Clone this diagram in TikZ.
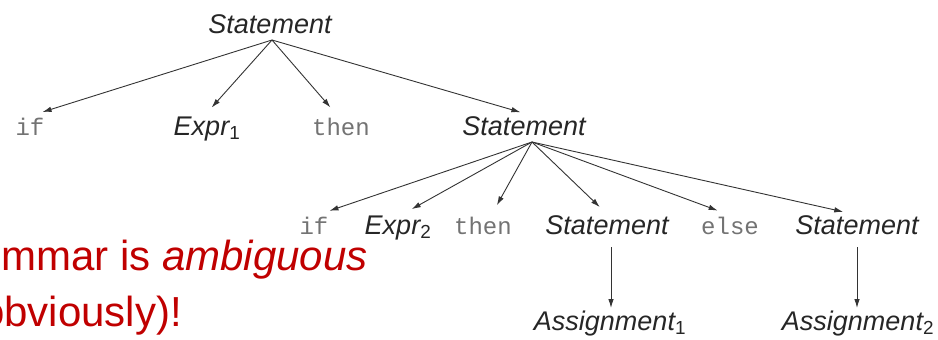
\documentclass[tikz,border=0pt]{standalone}
\usepackage{fontspec}
\setmainfont{Liberation Sans}
\newfontfamily\monof{Liberation Mono}
\usetikzlibrary{arrows.meta}
\definecolor{warnred}{RGB}{192,0,0}
\tikzset{
  sym/.style={inner sep=0pt, outer sep=0pt, anchor=base, text height=20pt, text depth=7pt},
  nt/.style={sym, font=\fontsize{27}{30}\selectfont\itshape, text=black!85},
  tm/.style={sym, font=\fontsize{24}{28}\selectfont\monof, text=black!55},
  edge/.style={draw=black!80, line width=0.9pt, -{Latex[length=9pt,width=5.5pt]}, shorten >=10pt},
  down/.style={edge, shorten <=6pt, shorten >=2pt},
  note/.style={anchor=base west, inner sep=0pt, text=warnred, font=\fontsize{42}{48}\selectfont}
}
\newcommand{\sub}[1]{\textsubscript{\upshape #1}}
\begin{document}
\begin{tikzpicture}[x=1pt, y=-1pt]
\useasboundingbox (0,0) rectangle (938,340);

% root
\node[nt] (s0) at (270,33) {Statement};

% first level
\node[tm] (if1)   at (30,135)  {if};
\node[nt] (expr1) at (207,135) {Expr\sub{1}};
\node[tm] (then1) at (341,135) {then};
\node[nt] (s1)    at (524,135) {Statement};

% second level
\node[tm] (if2)   at (314,234) {if};
\node[nt] (expr2) at (398,234) {Expr\sub{2}};
\node[tm] (then2) at (483,234) {then};
\node[nt] (s2a)   at (607,234) {Statement};
\node[tm] (else2) at (730,234) {else};
\node[nt] (s2b)   at (857,234) {Statement};

% leaves
\node[nt] (a1) at (610,330) {Assignment\sub{1}};
\node[nt] (a2) at (858,330) {Assignment\sub{2}};

% edges
\draw[edge] ([xshift=2pt]s0.south) -- ([xshift=3pt]if1.north);
\draw[edge] ([xshift=2pt]s0.south) -- ([xshift=-2pt]expr1.north);
\draw[edge] ([xshift=2pt]s0.south) -- ([xshift=-4pt]then1.north);
\draw[edge] ([xshift=2pt]s0.south) -- ([xshift=6pt]s1.north);

\draw[edge] ([xshift=8pt]s1.south) -- ([xshift=6pt]if2.north);
\draw[edge] ([xshift=8pt]s1.south) -- ([xshift=5pt]expr2.north);
\draw[edge] ([xshift=8pt]s1.south) -- ([xshift=9pt]then2.north);
\draw[edge] ([xshift=8pt]s1.south) -- (s2a.north);
\draw[edge] ([xshift=8pt]s1.south) -- ([xshift=-3pt]else2.north);
\draw[edge] ([xshift=8pt]s1.south) -- ([xshift=-4pt]s2b.north);

\draw[down] ([xshift=4pt]s2a.south) -- ([xshift=1pt]a1.north);
\draw[down] (s2b.south) -- ([xshift=-1pt]a2.north);

% remark
\node[note] (n1) at (1,270) {mmar is \textit{ambiguous}};
\node[note] (n2) at (-19,326) {obviously)!};
\end{tikzpicture}
\end{document}
